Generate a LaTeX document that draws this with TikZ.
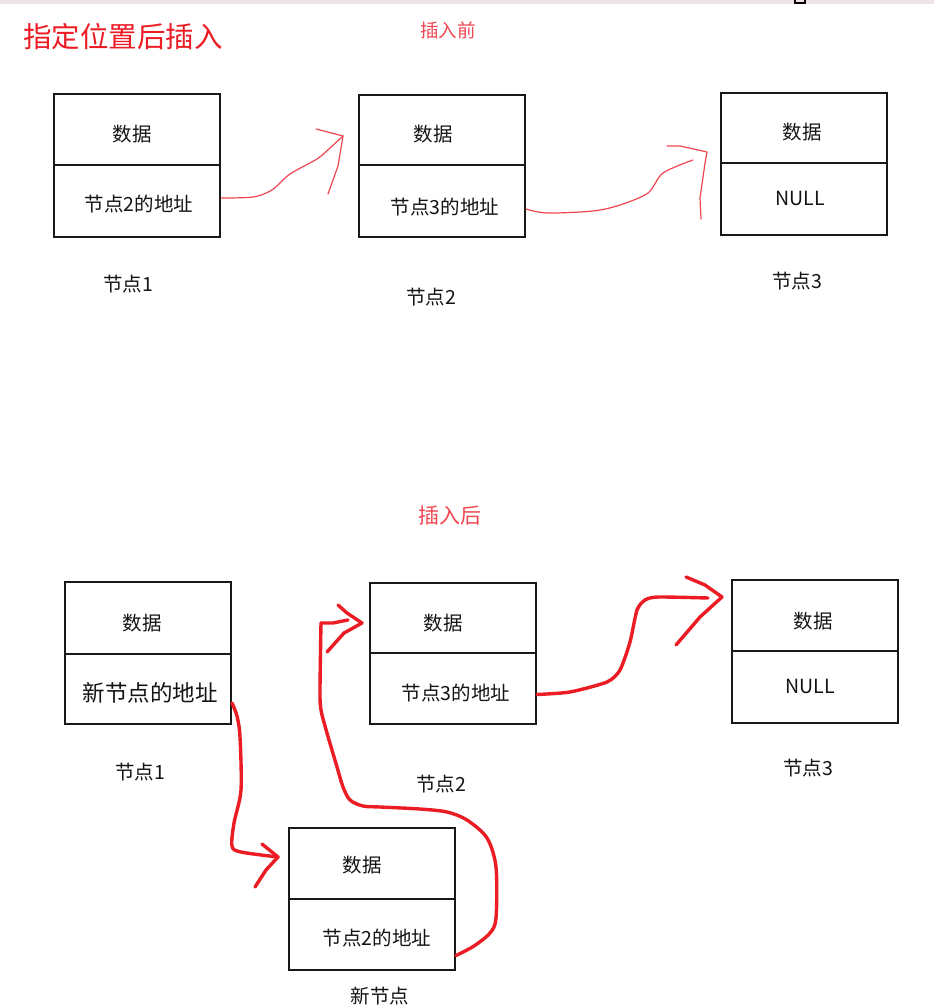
\documentclass[tikz,border=0pt]{standalone}
\usepackage{fontspec}
\setmainfont{Noto Sans CJK SC}
\newfontfamily\cjk{Noto Sans CJK SC}
\definecolor{boxline}{RGB}{25,25,25}
\definecolor{txtc}{RGB}{20,20,20}
\definecolor{redthin}{RGB}{240,70,82}
\definecolor{redthick}{RGB}{236,28,36}
\definecolor{strip}{RGB}{236,228,232}
\begin{document}
\begin{tikzpicture}[x=1pt,y=-1pt,
  cell/.style={draw=boxline, line width=2pt, minimum width=166pt, inner sep=0pt, anchor=north west},
  txt/.style={text=txtc, inner sep=0pt, font=\cjk\fontsize{19.5}{22}\selectfont},
  bigtxt/.style={text=txtc, inner sep=0pt, font=\cjk\fontsize{22.5}{26}\selectfont},
  title/.style={text=redthick, inner sep=0pt, font=\cjk\fontsize{28.5}{32}\selectfont},
  subtitle/.style={text=redthin, inner sep=0pt, font=\cjk\fontsize{18.5}{22}\selectfont},
  thinred/.style={draw=redthin, line width=1.2pt, line cap=round, line join=round},
  thickred/.style={draw=redthick, line width=3.4pt, line cap=round, line join=round}]
\useasboundingbox (0,0) rectangle (934,1008);
\fill[white] (0,0) rectangle (934,1008);
% top strip
\fill[strip] (0,0) rectangle (934,4);
\draw[black, line width=1.2pt] (795,-1) rectangle (805,3);

% titles
\node[title] (t0) at (123,37) {指定位置后插入};
\node[subtitle] (t1) at (448,30) {插入前};
\node[subtitle, font=\cjk\fontsize{21}{24}\selectfont] (t2) at (450,516) {插入后};

% ---------- before insertion ----------
\node[cell, minimum height=71pt] (b1a) at (53,93) {};
\node[cell, minimum height=72pt] (b1b) at (53,164) {};
\node[txt] at (132,134) {数据};
\node[txt] at (139,204) {节点2的地址};
\node[txt] (l1) at (128,284) {节点1};

\node[cell, minimum height=70pt] (b2a) at (358,94) {};
\node[cell, minimum height=72pt] (b2b) at (358,164) {};
\node[txt] at (433,134) {数据};
\node[txt] at (445,207) {节点3的地址};
\node[txt] (l2) at (431,297) {节点2};

\node[cell, minimum height=70pt] (b3a) at (720,92) {};
\node[cell, minimum height=72pt] (b3b) at (720,162) {};
\node[txt] at (802,132) {数据};
\node[txt] at (800,198) {NULL};
\node[txt] (l3) at (797,281) {节点3};

% arrow b1 -> b2
\coordinate (tipA) at (343,136);
\draw[thinred] plot[smooth, tension=0.5] coordinates {([yshift=3pt]b1b.east) (253,197) (272,190) (290,174) (317,159) (330,148) (tipA)};
\draw[thinred] (316,129) -- (tipA) -- (338,166) -- (328,194);

% arrow b2 -> b3
\coordinate (tipB) at (707,152);
\draw[thinred] plot[smooth, tension=0.5] coordinates {([yshift=-8pt]b2b.east) (547,213) (593,211) (620,205) (648,193) (663,173) (693,160)};
\draw[thinred] (667,146) -- (680,146) -- (tipB) -- (705,163) -- (700,198) -- (701,219);

% ---------- after insertion ----------
\node[cell, minimum height=72pt] (c1a) at (64,581) {};
\node[cell, minimum height=70pt] (c1b) at (64,653) {};
\node[txt] at (142,623) {数据};
\node[bigtxt] at (150,693) {新节点的地址};
\node[txt] (m1) at (140,772) {节点1};

\node[cell, minimum height=70pt] (c2a) at (369,582) {};
\node[cell, minimum height=71pt] (c2b) at (369,652) {};
\node[txt] at (443,623) {数据};
\node[txt] at (456,693) {节点3的地址};
\node[txt] (m2) at (441,784) {节点2};

\node[cell, minimum height=71pt] (c3a) at (731,579) {};
\node[cell, minimum height=72pt] (c3b) at (731,650) {};
\node[txt] at (813,621) {数据};
\node[txt] at (810,686) {NULL};
\node[txt] (m3) at (808,768) {节点3};

\node[cell, minimum height=71pt] (na) at (288,827) {};
\node[cell, minimum height=71pt] (nb) at (288,898) {};
\node[txt] at (362,865) {数据};
\node[txt] at (377,938) {节点2的地址};
\node[txt] (mn) at (380,996) {新节点};

% arrow c2 -> c3
\coordinate (tipC) at (722,597);
\draw[thickred] plot[smooth, tension=0.4] coordinates {([yshift=-6pt]c2b.east) (570,692) (607,682) (620,670) (630,642) (637,610) (645,600) (658,597) (708,598)};
\draw[thickred] (686,577) -- (705,585) -- (tipC) -- (700,617) -- (676,645);

% arrow c1 -> new node
\coordinate (tipD) at (278,857);
\draw[thickred] plot[smooth, tension=0.5] coordinates {([yshift=-14pt]c1b.east) (237,716) (240,737) (241,790) (234,823) (232,846) (241,852) (tipD)};
\draw[thickred] (262,844) -- (tipD) -- (266,870) -- (255,887);

% arrow new node -> c2
\coordinate (tipE) at (362,623);
\draw[thickred] plot[smooth, tension=0.5] coordinates {([yshift=-21pt]nb.east) (474,946) (490,933) (496,918) (496,867) (487,838) (467,820) (447,812) (420,809) (380,807) (363,806) (350,800) (343,787) (337,767) (327,733) (321,710) (320,690) (321,623)};
\draw[thickred] (321,623) -- (333,623) -- (348,620);
\draw[thickred] (338,605) -- (347,613) -- (tipE) -- (344,633) -- (327,652);
\end{tikzpicture}
\end{document}
